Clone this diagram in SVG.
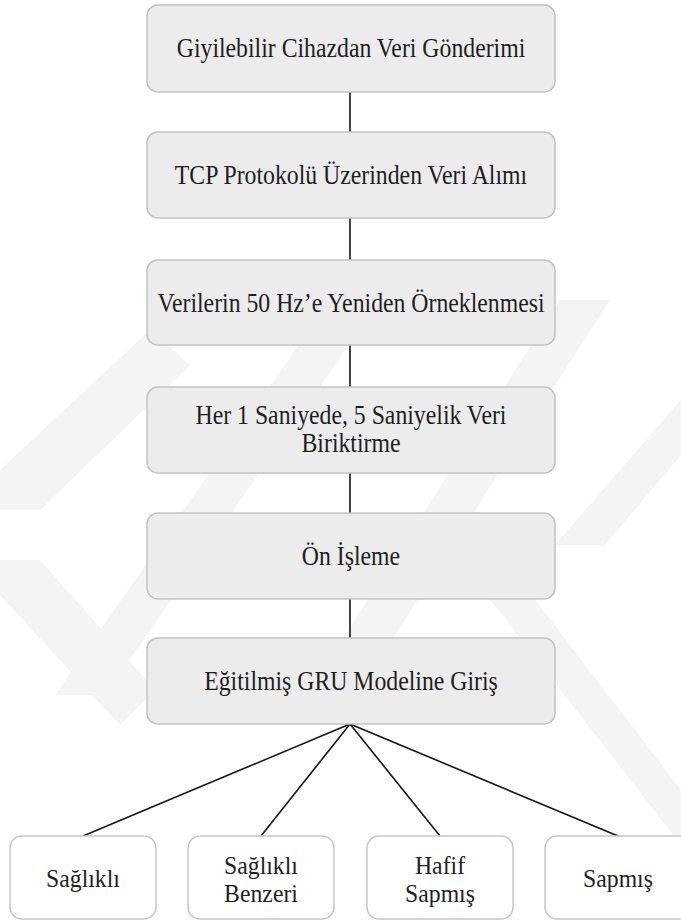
<svg xmlns="http://www.w3.org/2000/svg" width="681" height="921" viewBox="0 0 681 921">
  <style>
    .step rect { fill: #ececec; stroke: #c2c2c2; stroke-width: 1.5; }
    .leaf rect { fill: #ffffff; stroke: #c6c6c6; stroke-width: 1.5; }
    .label { fill: #1e1e1e; text-anchor: middle; font-family: "Liberation Serif", "Times New Roman", serif; }
    .step .label { font-size: 27px; }
    .leaf .label { font-size: 25px; }
    .links line { stroke: #151515; stroke-width: 1.6; }
    .mark { fill: #f4f4f4; }
  </style>

  <rect width="681" height="921" fill="#ffffff"/>

  <!-- faint background emblem -->
  <g id="emblem">
    <polygon class="mark" points="0,470 150,330 190,365 40,510 0,510"/>
    <polygon class="mark" points="0,560 40,560 155,690 120,725 0,595"/>
    <polygon class="mark" points="55,695 330,300 380,300 105,695"/>
    <polygon class="mark" points="300,705 560,300 610,300 350,705"/>
    <polygon class="mark" points="475,580 520,580 681,790 681,845"/>
    <polygon class="mark" points="555,545 681,400 681,455 605,545"/>
  </g>

  <g class="links">
    <line x1="350" y1="92" x2="350" y2="132"/>
    <line x1="350" y1="218" x2="350" y2="260"/>
    <line x1="350" y1="345" x2="350" y2="387"/>
    <line x1="350" y1="473" x2="350" y2="513"/>
    <line x1="350" y1="599" x2="350" y2="638"/>
    <line x1="350" y1="724" x2="83" y2="836"/>
    <line x1="350" y1="724" x2="261" y2="836"/>
    <line x1="350" y1="724" x2="440" y2="836"/>
    <line x1="350" y1="724" x2="618" y2="836"/>
  </g>

  <g id="n1" class="step">
    <rect x="147" y="5" width="408" height="87" rx="11"/>
    <text class="label" transform="translate(351,57) scale(0.88,1)">Giyilebilir Cihazdan Veri Gönderimi</text>
  </g>
  <g id="n2" class="step">
    <rect x="147" y="132" width="408" height="86" rx="11"/>
    <text class="label" transform="translate(351,184) scale(0.88,1)">TCP Protokolü Üzerinden Veri Alımı</text>
  </g>
  <g id="n3" class="step">
    <rect x="147" y="260" width="408" height="85" rx="11"/>
    <text class="label" transform="translate(351,312) scale(0.88,1)">Verilerin 50 Hz’e Yeniden Örneklenmesi</text>
  </g>
  <g id="n4" class="step">
    <rect x="147" y="387" width="408" height="86" rx="11"/>
    <text class="label" transform="translate(351,424) scale(0.88,1)">Her 1 Saniyede, 5 Saniyelik Veri</text>
    <text class="label" transform="translate(351,452) scale(0.88,1)">Biriktirme</text>
  </g>
  <g id="n5" class="step">
    <rect x="147" y="513" width="408" height="86" rx="11"/>
    <text class="label" transform="translate(351,565) scale(0.88,1)">Ön İşleme</text>
  </g>
  <g id="n6" class="step">
    <rect x="147" y="638" width="408" height="86" rx="11"/>
    <text class="label" transform="translate(351,690) scale(0.88,1)">Eğitilmiş GRU Modeline Giriş</text>
  </g>

  <g id="c1" class="leaf">
    <rect x="10" y="836" width="146" height="83" rx="12"/>
    <text class="label" transform="translate(83,887) scale(0.95,1)">Sağlıklı</text>
  </g>
  <g id="c2" class="leaf">
    <rect x="188" y="836" width="146" height="83" rx="12"/>
    <text class="label" transform="translate(261,874) scale(0.95,1)">Sağlıklı</text>
    <text class="label" transform="translate(261,902) scale(0.95,1)">Benzeri</text>
  </g>
  <g id="c3" class="leaf">
    <rect x="367" y="836" width="146" height="83" rx="12"/>
    <text class="label" transform="translate(440,874) scale(0.95,1)">Hafif</text>
    <text class="label" transform="translate(440,902) scale(0.95,1)">Sapmış</text>
  </g>
  <g id="c4" class="leaf">
    <rect x="545" y="836" width="146" height="83" rx="12"/>
    <text class="label" transform="translate(618,887) scale(0.95,1)">Sapmış</text>
  </g>
</svg>
